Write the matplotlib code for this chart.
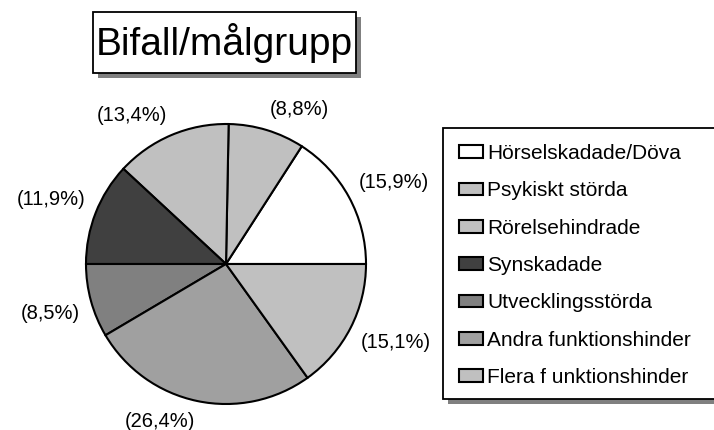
import matplotlib
matplotlib.use("Agg")
import matplotlib.pyplot as plt
from matplotlib.patches import Rectangle

plt.rcParams['font.family'] = ['Liberation Sans', 'DejaVu Sans']

categories = ["Hörselskadade/Döva", "Psykiskt störda", "Rörelsehindrade", "Synskadade",
              "Utvecklingsstörda", "Andra funktionshinder", "Flera f unktionshinder"]
values = [15.9, 8.8, 13.4, 11.9, 8.5, 26.4, 15.1]
colors = ["#FFFFFF", "#C0C0C0", "#C0C0C0", "#404040", "#808080", "#A0A0A0", "#C0C0C0"]
title = "Bifall/målgrupp"

W, H = 714, 430
fig = plt.figure(figsize=(W / 100, H / 100), dpi=100)


def px(x0, y0, x1, y1):
    """pixel box (top-left origin) -> figure fraction rect"""
    return [x0 / W, 1 - y1 / H, (x1 - x0) / W, (y1 - y0) / H]


# pie axes: center (226,264), radius 140 px
ax = fig.add_axes(px(86, 124, 366, 404))
labels = ["(" + f"{v:.1f}".replace(".", ",") + "%)" for v in values]
wedges, texts = ax.pie(values, colors=colors, startangle=0, counterclock=True,
                       labels=labels, labeldistance=1.08,
                       wedgeprops=dict(edgecolor="black", linewidth=1.5),
                       textprops=dict(fontsize=14.5, color="black"))
for w in wedges:
    w.set_clip_on(False)
for t in texts:
    x, y = t.get_position()
    t.set_va("bottom" if y > 0 else "top")
    t.set_clip_on(False)
ax.set_xlim(-1, 1)
ax.set_ylim(-1, 1)
ax.set_aspect("auto")
ax.axis("off")


def shadow_box(x0, y0, x1, y1, off=5, lw=1.3):
    fig.patches.append(Rectangle((x0 / W + off / W, 1 - (y1 + off) / H), (x1 - x0) / W, (y1 - y0) / H,
                                 transform=fig.transFigure, facecolor="#808080", edgecolor="none", zorder=0))
    fig.patches.append(Rectangle((x0 / W, 1 - y1 / H), (x1 - x0) / W, (y1 - y0) / H,
                                 transform=fig.transFigure, facecolor="white", edgecolor="black",
                                 linewidth=lw, zorder=1))


# title box
shadow_box(93, 12, 356, 73)
fig.text((93 + 356) / 2 / W, 1 - 43 / H, title, ha="center", va="center", fontsize=28, zorder=3)

# legend box
shadow_box(443, 128, 716, 399, off=5)
leg = fig.legend(wedges, categories, loc="upper left",
                 bbox_to_anchor=(459 / W, 1 - 144 / H), frameon=False,
                 fontsize=15, handlelength=1.15, handleheight=0.58, handletextpad=0.2,
                 labelspacing=0.88, borderpad=0, borderaxespad=0)
leg.set_zorder(5)

fig.savefig("out.png", dpi=100)
